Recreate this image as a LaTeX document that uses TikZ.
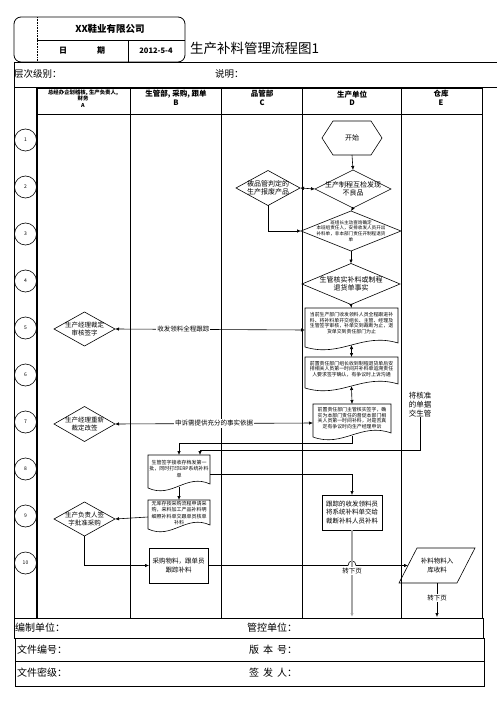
\documentclass[tikz,border=0pt]{standalone}
\usepackage{fontspec}
\setmainfont{Liberation Serif}
\newfontfamily\cjk{Noto Sans CJK SC}
\usetikzlibrary{calc,arrows.meta}
\newcommand{\mydia}[1]{\draw (#1.north) -- (#1.east) -- (#1.south) -- (#1.west) -- cycle;}
\newcommand{\mydoc}[2]{\draw (#1.north west) -- (#1.north east) -- ($(#1.south east)+(0,-9)$) .. controls +(-#2,-11) and +(#2,11) .. ($(#1.south west)+(0,-5)$) -- cycle;}
\begin{document}
\begin{tikzpicture}[x=1pt,y=-1pt,
  every node/.style={inner sep=0pt,outer sep=0pt},
  fs/.style 2 args={font=\cjk\fontsize{#1}{#2}\selectfont,align=center},
  fsb/.style 2 args={font=\cjk\bfseries\fontsize{#1}{#2}\selectfont,align=center},
  shp/.style 2 args={minimum width=#1,minimum height=#2},
  arr/.style={-{Latex[length=4pt,width=3.4pt]}},
  darr/.style={{Latex[length=4pt,width=3.4pt]}-{Latex[length=4pt,width=3.4pt]}},
  lbl/.style={fill=white,fs={6.5}{7.5},inner sep=1pt},
  rowc/.style={circle,draw,minimum size=22,fs={5}{6}},
  thick line/.style={line width=1.5pt},
  grayline/.style={draw=black!35,line width=1.6pt,-{Latex[length=4pt,width=3.4pt]}},
  line width=0.6pt
]
\useasboundingbox (0,0) rectangle (497,703);

% ---------- header ----------
\draw[line width=0.8pt,rounded corners=7pt] (14,17) rectangle (185,62);
\draw[densely dotted] (37,17) -- (37,62);
\draw (37,40) -- (185,40);
\draw (128,40) -- (128,62);
\node[fsb={9.5}{11}] (company) at (110,29) {XX鞋业有限公司};
\node[fsb={8}{9}] (datelbl) at (82,51) {日\hspace{30pt}期};
\node[fsb={7.5}{9}] (date) at (156,51) {2012-5-4};
\node[fs={13.5}{15},anchor=west] (title) at (190,48) {生产补料管理流程图1};

\draw (14,62) -- (497,62);
\draw (14,62) -- (14,87);
\draw (14,87) -- (497,87);
\node[fs={9.5}{11},anchor=west] (lvl) at (14,74) {层次级别：};
\node[fs={9.5}{11},anchor=west] (note) at (215,74) {说明：};

% ---------- table ----------
\draw[thick line] (37,88) -- (482,88);
\draw (14,87) -- (14,618);
\draw[thick line] (37,88) -- (37,618);
\foreach \x in {130,221,302,401} \draw (\x,88) -- (\x,618);
\draw (482,88) -- (482,618);
\draw (37,114) -- (482,114);

\node[fsb={5.4}{6.4}] (hA) at (83,98.5) {总经办企划稽核, 生产负责人,\\财务\\A};
\node[fsb={7.5}{8.5}] (hB) at (176,98) {生管部, 采购, 跟单\\B};
\node[fsb={7.5}{8.5}] (hC) at (262,98) {品管部\\C};
\node[fsb={7.5}{8.5}] (hD) at (352,98) {生产单位\\D};
\node[fsb={7.5}{8.5}] (hE) at (441,98) {仓库\\E};

\foreach \i/\y in {1/140,2/187,3/234,4/281,5/328,6/375,7/422,8/469,9/516,10/563}
  \node[rowc] (r\i) at (25.5,\y) {\i};

% ---------- nodes ----------
\node[fs={7}{8.5},shp={60}{34}] (start) at (352,138) {开始};
\draw (start.west) -- ($(start.north west)+(11,0)$) -- ($(start.north east)+(-11,0)$) -- (start.east) -- ($(start.south east)+(-11,0)$) -- ($(start.south west)+(11,0)$) -- cycle;

\node[fs={7}{8.5},shp={64}{35}] (c2) at (268,188) {被品管判定的\\生产报废产品};
\mydia{c2}
\node[fs={7}{8.5},shp={76}{38}] (d2) at (353,189) {生产制程互检发现\\不良品};
\mydia{d2}
\node[fs={4.6}{5.6},shp={100}{40}] (d3) at (351,231) {班组长主动查询确定\\本班组责任人，安排收发人员开出\\补料单，非本部门责任开制程退货\\单};
\mydia{d3}
\node[fs={7}{8.5},shp={98}{41}] (d4) at (351,284) {生管核实补料或制程\\退货单事实};
\mydia{d4}

\node[shp={93}{44},anchor=north] (d5) at (351.5,308) {};
\node[fs={4.9}{5.7}] (d5t) at (351.5,323) {当前生产部门收发领料人员全程跟进补\\料、将补料单开交组长、主管、经理及\\生管签字审核，补单交到裁断为止，退\\货单交到责任部门为止};
\mydoc{d5}{36}
\node[shp={93}{36},anchor=north] (d6) at (351.5,357) {};
\node[fs={4.9}{5.7}] (d6t) at (351.5,369) {前置责任部门组长收到制程退货单后安\\排相关人员第一时间开补料单追溯责任\\人要求签字确认，有争议时上诉沟通};
\mydoc{d6}{36}
\node[shp={78}{38},anchor=north] (d7) at (352,404) {};
\node[fs={4.9}{5.7}] (d7t) at (352,418) {前置责任部门主管核实签字，确\\实为本部门责任的督促本部门相\\关人员第一时间补料，对是否真\\定有争议时向生产经理申诉};
\mydoc{d7}{30}

\node[fs={7.5}{9}] (e7) at (420,405) {将核准\\的单据\\交生管};

\node[fs={6.5}{8},shp={61}{34}] (a5) at (84.5,329) {生产经理裁定\\审核签字};
\mydia{a5}
\node[fs={6.5}{8},shp={61}{35}] (a7) at (84.5,424) {生产经理重新\\裁定改签};
\mydia{a7}
\node[fs={6.5}{8},shp={61}{34}] (a9) at (84.5,519) {生产负责人签\\字批准采购};
\mydia{a9}

\node[shp={62}{38},anchor=north] (b8) at (179,455) {};
\node[fs={5}{6.2}] (b8t) at (179,469) {生管签字接收存档发第一\\批，同时打印ERP系统补料\\单};
\mydoc{b8}{24}
\node[shp={62}{34},anchor=north] (b9) at (179,500) {};
\node[fs={5}{6.2}] (b9t) at (179,513) {无库存按采购流程申请采\\购，来料加工产品补料明\\细照补料单交跟单员核单\\补料};
\mydoc{b9}{24}

\node[fs={6.5}{8.5},shp={59}{35},draw] (b10) at (178.5,565.5) {采购物料，跟单员\\跟踪补料};
\node[fs={6.5}{8.5},shp={60}{35},draw] (d9) at (352,512.5) {跟踪的收发领料员\\将系统补料单交给\\裁断补料人员补料};
\node[fs={6.5}{8.5},shp={76}{35}] (e10) at (437,565.5) {补料物料入\\库收料};
\draw ($(e10.north west)+(18,0)$) -- (e10.north east) -- ($(e10.south east)+(-18,0)$) -- (e10.south west) -- cycle;

\coordinate (d9end) at (352,617);
\coordinate (e10end) at (437,617);
\coordinate (hopL) at (348,565.5);
\coordinate (hopR) at (356,565.5);
\coordinate (e10in) at ($(e10.west)+(9,0)$);
\coordinate (e7turn) at (200,450);

% ---------- connectors ----------
\draw[arr] (start.south) -- (d2.north);
\draw[darr] (c2.east) -- (d2.west);
\draw[arr] (d2.south) -- (d3.north);
\draw[arr] (c2.south) |- (d3.west);
\draw[arr] (d3.south) -- (d4.north);
\draw[arr] (d4.south) -- (d5.north);
\draw[darr] ([yshift=7pt]d5.south) -- (d6.north);
\draw[darr] ([yshift=7pt]d6.south) -- (d7.north);
\draw[darr] (a5.east) -- node[lbl,pos=0.36]{收发领料全程跟踪} (d5.west);
\draw[darr] (a7.east) -- node[lbl,pos=0.5]{申诉需提供充分的事实依据} (d7.west);
\draw[arr] ([yshift=6pt]d7.south) -- ++(0,7) -| (b8.north);
\draw (e7.south) |- (e7turn);
\draw[arr] (e7turn) -- ($(e7turn)+(0,5)$);
\draw[arr] (b8.east) -| (d9.north);
\draw[arr] ([yshift=6pt]b8.south) -- (b9.north);
\draw[arr] (b9.west) -- (a9.east);
\draw[arr] (a9.south) |- (b10.west);
\draw[arr] (b10.east) -- (hopL) .. controls (348,559.5) and (356,559.5) .. (hopR) -- (e10in);
\draw[grayline] (d9.south) -- node[lbl,pos=0.47]{转下页} (d9end);
\draw[arr] (e10.south) -- node[lbl,pos=0.45]{转下页} (e10end);

% ---------- footer ----------
\draw (14,618) rectangle (483,638);
\draw (15,638) rectangle (484,661);
\draw (15,661) rectangle (484,686);
\node[fs={10}{12},anchor=west] (f1) at (15,628) {编制单位：};
\node[fs={10}{12},anchor=west] (f2) at (247,628) {管控单位：};
\node[fs={10}{12},anchor=west] (f3) at (17,650) {文件编号：};
\node[fs={10}{12},anchor=west] (f4) at (249,650) {版\hspace{4pt}本\hspace{4pt}号：};
\node[fs={10}{12},anchor=west] (f5) at (17,673) {文件密级：};
\node[fs={10}{12},anchor=west] (f6) at (249,673) {签\hspace{4pt}发\hspace{4pt}人：};
\end{tikzpicture}
\end{document}
